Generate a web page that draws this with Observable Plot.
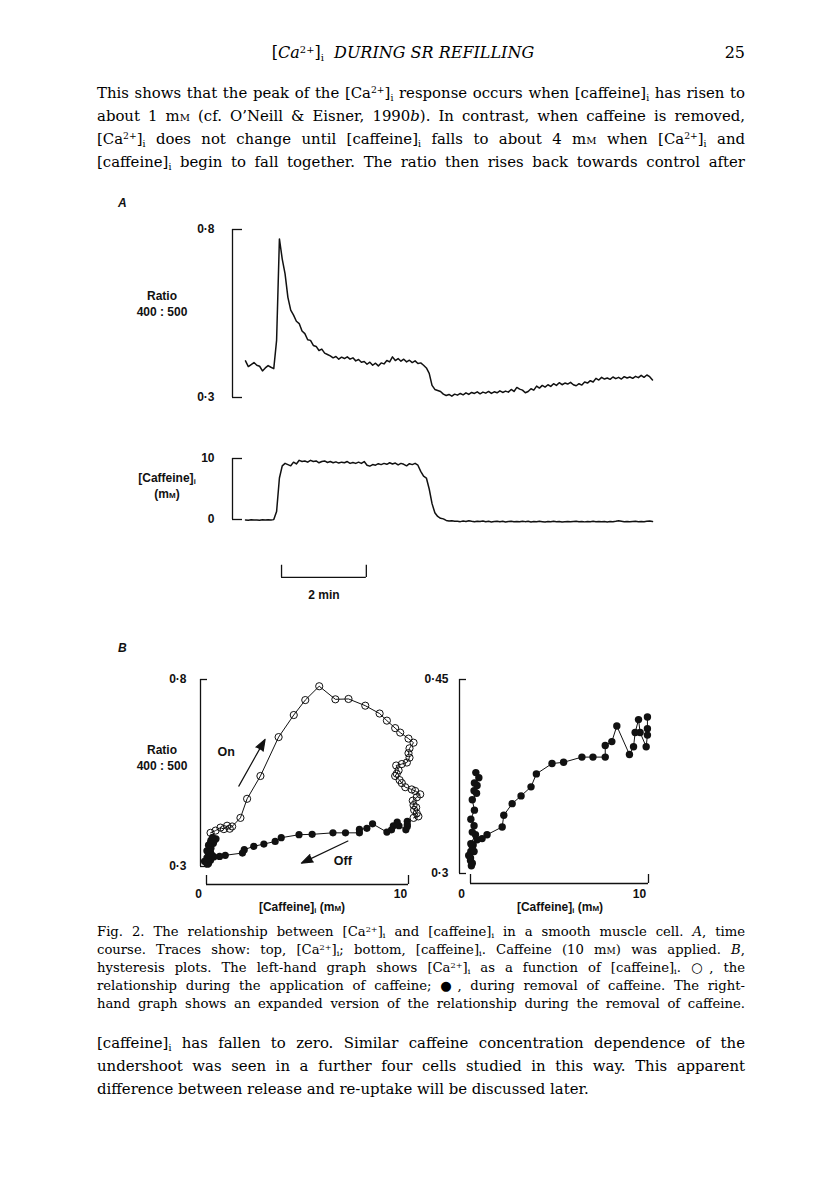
<!DOCTYPE html>
<html>
<head>
<meta charset="utf-8">
<script src="https://cdn.jsdelivr.net/npm/d3@7"></script>
<script src="https://cdn.jsdelivr.net/npm/@observablehq/plot@0.6"></script>
<style>
html,body{margin:0;padding:0;background:#fff;}
#page{position:relative;width:816px;height:1204px;overflow:hidden;color:#000;background:#fff;}
.ln{position:absolute;left:97px;width:648px;height:22px;line-height:22px;font-family:"DejaVu Serif",serif;font-size:14.9px;word-spacing:-1.5px;text-align:justify;text-align-last:justify;}
.cap{position:absolute;left:97px;width:648px;height:18px;line-height:18px;font-family:"DejaVu Serif",serif;font-size:13.2px;word-spacing:-1px;text-align:justify;text-align-last:justify;}
.left{text-align:left;text-align-last:left;word-spacing:0;}
sup{font-size:.62em;vertical-align:.55em;line-height:0;}
sub{font-size:.62em;vertical-align:-.3em;line-height:0;}
.sc{font-variant:small-caps;}
.lab{position:absolute;font-family:"Liberation Sans",Arial,sans-serif;font-weight:bold;font-size:12px;text-align:center;line-height:16px;white-space:nowrap;color:#111;}
.panel{position:absolute;font-family:"Liberation Sans",Arial,sans-serif;font-weight:bold;font-style:italic;font-size:12px;color:#111;}
.chart{position:absolute;}
</style>
</head>
<body>
<div id="page">
  <div class="ln left" style="top:42px;left:0;width:806px;text-align:center;text-align-last:center;font-size:16px;">[<i>Ca</i><sup>2+</sup>]<sub>i</sub>&nbsp; <i>DURING SR REFILLING</i></div>
  <div class="ln left" style="top:42px;text-align:right;text-align-last:right;font-size:16px;">25</div>

  <div class="ln" style="top:82px;">This shows that the peak of the [Ca<sup>2+</sup>]<sub>i</sub> response occurs when [caffeine]<sub>i</sub> has risen to</div>
  <div class="ln" style="top:105px;">about 1 m<span class="sc">m</span> (cf. O’Neill &amp; Eisner, 1990<i>b</i>). In contrast, when caffeine is removed,</div>
  <div class="ln" style="top:128px;">[Ca<sup>2+</sup>]<sub>i</sub> does not change until [caffeine]<sub>i</sub> falls to about 4 m<span class="sc">m</span> when [Ca<sup>2+</sup>]<sub>i</sub> and</div>
  <div class="ln" style="top:151px;">[caffeine]<sub>i</sub> begin to fall together. The ratio then rises back towards control after</div>

  <div class="panel" style="left:118px;top:196px;">A</div>
  <div class="panel" style="left:118px;top:641px;">B</div>

  <div class="lab" style="left:122px;width:80px;top:288px;">Ratio<br>400 : 500</div>
  <div class="lab" style="left:127px;width:80px;top:470px;">[Caffeine]<sub>i</sub><br>(m<span class="sc">m</span>)</div>
  <div class="lab" style="left:122px;width:80px;top:742px;">Ratio<br>400 : 500</div>
  <div class="lab" style="left:242px;width:120px;top:899px;">[Caffeine]<sub>i</sub> (m<span class="sc">m</span>)</div>
  <div class="lab" style="left:500px;width:120px;top:899px;">[Caffeine]<sub>i</sub> (m<span class="sc">m</span>)</div>

  <div class="chart" id="a1" style="left:0;top:200px;"></div>
  <div class="chart" id="a2" style="left:0;top:440px;"></div>
  <div class="chart" id="b1" style="left:0;top:660px;"></div>
  <div class="chart" id="b2" style="left:420px;top:660px;"></div>

  <div class="cap" style="top:923px;">Fig. 2. The relationship between [Ca<sup>2+</sup>]<sub>i</sub> and [caffeine]<sub>i</sub> in a smooth muscle cell. <i>A</i>, time</div>
  <div class="cap" style="top:941px;">course. Traces show: top, [Ca<sup>2+</sup>]<sub>i</sub>; bottom, [caffeine]<sub>i</sub>. Caffeine (10 m<span class="sc">m</span>) was applied. <i>B</i>,</div>
  <div class="cap" style="top:959px;">hysteresis plots. The left-hand graph shows [Ca<sup>2+</sup>]<sub>i</sub> as a function of [caffeine]<sub>i</sub>. ○, the</div>
  <div class="cap" style="top:977px;">relationship during the application of caffeine; ●, during removal of caffeine. The right-</div>
  <div class="cap" style="top:995px;">hand graph shows an expanded version of the relationship during the removal of caffeine.</div>

  <div class="ln" style="top:1032px;">[caffeine]<sub>i</sub> has fallen to zero. Similar caffeine concentration dependence of the</div>
  <div class="ln" style="top:1055px;">undershoot was seen in a further four cells studied in this way. This apparent</div>
  <div class="ln left" style="top:1078px;">difference between release and re-uptake will be discussed later.</div>
</div>
<script>
// ---- Panel A: time course (time in s) ----
const traceTime = [0,4,8,12,16,20,24,28,32,36,40,44,48,52,56,60,64,68,72,76,80,84,88,92,96,100,104,108,112,116,120,124,128,132,136,140,144,148,152,156,160,164,168,172,176,180,184,188,192,196,200,204,208,212,216,220,224,228,232,236,240,244,248,252,256,260,264,268,272,276,280,284,288,292,296,300,304,308,312,316,320,324,328,332,336,340,344,348,352,356,360,364,368,372,376,380,384,388,392,396,400,404,408,412,416,420,424,428,432,436,440,444,448,452,456,460,464,468,472,476,480,484,488,492,496,500,504,508,512,516,520,524,528,532,536,540,544,548,552,556,560,564,568,572,576];
const ratioTrace = [0.409,0.392,0.398,0.404,0.396,0.393,0.379,0.388,0.395,0.390,0.386,
  0.470,0.772,0.712,0.668,0.598,0.560,0.545,0.527,0.520,0.498,
  0.490,0.472,0.470,0.455,0.452,0.440,0.444,0.432,0.428,0.424,
  0.418,0.422,0.414,0.420,0.416,0.421,0.414,0.418,0.409,0.413,
  0.405,0.407,0.399,0.405,0.396,0.402,0.394,0.403,0.400,0.410,
  0.406,0.421,0.410,0.416,0.408,0.414,0.406,0.411,0.404,0.409,
  0.401,0.403,0.396,0.388,0.372,0.336,0.324,0.321,0.318,0.310,
  0.306,0.309,0.304,0.310,
  0.307,0.312,0.308,0.314,0.309,0.315,0.312,0.317,0.311,0.316,
  0.313,0.318,0.312,0.317,0.314,0.320,0.315,0.319,0.316,0.324,
  0.318,0.330,0.325,0.322,0.314,0.318,0.326,0.322,0.334,0.328,
  0.336,0.331,0.338,0.333,0.341,0.336,0.344,0.338,0.343,0.340,
  0.345,0.338,0.335,0.341,0.337,0.346,0.343,0.350,0.346,0.357,
  0.352,0.360,0.355,0.358,0.354,0.361,0.356,0.360,0.355,0.362,
  0.358,0.361,0.357,0.363,0.359,0.366,0.360,0.367,0.362,0.352];
const caffeineTrace = [-0.08,-0.12,-0.05,-0.10,-0.07,-0.13,-0.06,-0.10,-0.04,-0.09,-0.02,
  1.3,6.8,8.8,9.2,9.0,8.8,9.4,9.1,9.7,9.5,
  9.6,9.4,9.7,9.5,9.6,9.3,9.5,9.6,9.35,9.5,
  9.3,9.45,9.25,9.4,9.3,9.5,9.2,9.35,9.2,9.4,
  9.2,9.5,8.9,8.75,9.0,8.9,9.15,9.0,9.2,9.05,
  9.3,9.1,9.25,8.95,9.2,9.05,8.8,9.15,9.0,9.2,
  8.9,7.9,7.1,6.8,5.0,2.6,1.1,0.5,0.2,0.1,
  -0.15,-0.25,-0.2,-0.3,
  -0.28,-0.35,-0.25,-0.32,-0.20,-0.30,-0.38,-0.27,-0.33,-0.24,
  -0.36,-0.30,-0.40,-0.32,-0.28,-0.37,-0.30,-0.42,-0.34,-0.29,
  -0.38,-0.31,-0.36,-0.27,-0.35,-0.30,-0.40,-0.33,-0.37,-0.29,
  -0.35,-0.41,-0.32,-0.38,-0.30,-0.36,-0.33,-0.40,-0.35,-0.31,
  -0.38,-0.34,-0.29,-0.36,-0.32,-0.39,-0.33,-0.37,-0.30,-0.35,
  -0.31,-0.38,-0.34,-0.40,-0.33,-0.36,-0.30,-0.22,-0.28,-0.35,
  -0.31,-0.37,-0.33,-0.29,-0.36,-0.32,-0.38,-0.30,-0.26,-0.34];
const ratioTicks = [0.3, 0.8];
const caffeineTicks = [0, 10];
const scaleBarStart = 51;      // s
const scaleBarSeconds = 120;   // 2 min
const scaleBarText = "2 min";

// ---- Panel B: hysteresis ([caffeine]i in mM, ratio 400:500) ----
const onCaffeine = [0.2,0.45,0.69,0.86,1.02,1.15,1.27,1.68,2.01,2.67,3.57,4.32,4.89,5.58,6.38,7.03,7.86,8.57,8.93,9.34,9.59,10.0,10.25,10.05,10.0,10.05,9.92,9.67,9.39,9.51,9.42,9.34,9.56,9.67,9.84,10.16,10.33,10.58,10.41,10.21,10.25,10.38,10.28,10.41,10.49,10.25];
const onRatio = [0.390,0.396,0.404,0.400,0.409,0.401,0.407,0.430,0.481,0.542,0.646,0.705,0.745,0.782,0.747,0.748,0.730,0.709,0.690,0.670,0.658,0.642,0.631,0.616,0.603,0.591,0.578,0.574,0.570,0.557,0.548,0.542,0.531,0.523,0.512,0.506,0.502,0.493,0.485,0.476,0.464,0.458,0.451,0.442,0.434,0.430];
const offCaffeine = [9.94,9.94,9.94,9.87,9.53,9.44,9.25,9.16,8.93,8.22,7.94,7.57,7.57,6.88,6.26,5.23,4.58,3.70,3.40,2.84,2.34,1.87,1.78,0.93,0.65,0.37,
  0.15,0.02,-0.1,0.0,0.05,0.1,0.0,0.2,0.1,0.02,0.28,0.1,0.2,0.02,0.22,0.1,0.34,0.2,0.37,0.22,0.47,0.3];
const offRatio = [0.421,0.412,0.407,0.398,0.409,0.419,0.409,0.398,0.392,0.414,0.402,0.399,0.390,0.390,0.390,0.386,0.385,0.377,0.367,0.360,0.354,0.345,0.336,0.330,0.327,0.326,
  0.322,0.317,0.314,0.310,0.306,0.308,0.312,0.317,0.321,0.323,0.330,0.332,0.337,0.342,0.349,0.357,0.362,0.364,0.368,0.370,0.374,0.378];
const leftRatioTicks = [0.3, 0.8];
const rightRatioTicks = [0.3, 0.45];
const caffeineAxisTicks = [0, 10];
const arrowText = ["On", "Off"];
const arrowFromC = [1.6, 7.0], arrowFromR = [0.515, 0.368];
const arrowToC = [2.9, 4.7], arrowToR = [0.64, 0.309];
const arrowTextC = [0.97, 6.75], arrowTextR = [0.606, 0.314];

// ---- build rows ----
const traceRows = traceTime.map((t, i) => ({t, ratio: ratioTrace[i], caffeine: caffeineTrace[i]}));
const onRows = onCaffeine.map((c, i) => ({c, r: onRatio[i]}));
const offRows = offCaffeine.map((c, i) => ({c, r: offRatio[i]}));
const arrowRows = arrowText.map((label, i) => ({label, x1: arrowFromC[i], y1: arrowFromR[i], x2: arrowToC[i], y2: arrowToR[i], tx: arrowTextC[i], ty: arrowTextR[i]}));

const INK = "#111";
const fmt = d => String(d).replace(".", "·");
const style = {fontFamily: '"Liberation Sans", Arial, sans-serif', fontSize: "12px", fontWeight: "bold", color: INK, background: "transparent", overflow: "visible"};

// A, top: ratio
const a1 = Plot.plot({
  width: 700, height: 215, marginLeft: 232, marginTop: 29, marginBottom: 18, marginRight: 40,
  style,
  x: {domain: [0, 576], range: [245, 652], axis: null},
  y: {domain: [0.3, 0.8], label: null},
  marks: [
    Plot.ruleX([0], {y1: 0.3, y2: 0.8, dx: -13, stroke: INK, strokeWidth: 1.3}),
    Plot.axisY({ticks: ratioTicks, tickFormat: fmt, tickSize: -10, tickPadding: 28, label: null, strokeWidth: 1.3}),
    Plot.line(traceRows, {x: "t", y: "ratio", stroke: INK, strokeWidth: 1.5})
  ]
});
document.getElementById("a1").append(a1);

// A, bottom: caffeine with 2 min scale bar
const a2 = Plot.plot({
  width: 700, height: 170, marginLeft: 232, marginTop: 18, marginBottom: 91, marginRight: 40,
  style,
  x: {domain: [0, 576], range: [245, 652], axis: null},
  y: {domain: [0, 10], label: null},
  marks: [
    Plot.ruleX([0], {y1: 0, y2: 10, dx: -13, stroke: INK, strokeWidth: 1.3}),
    Plot.axisY({ticks: caffeineTicks, tickFormat: fmt, tickSize: -10, tickPadding: 28, label: null, strokeWidth: 1.3}),
    Plot.line(traceRows, {x: "t", y: "caffeine", stroke: INK, strokeWidth: 1.5}),
    Plot.ruleY([-9.5], {x1: scaleBarStart, x2: scaleBarStart + scaleBarSeconds, stroke: INK, strokeWidth: 1.3}),
    Plot.ruleX([scaleBarStart, scaleBarStart + scaleBarSeconds], {y1: -9.5, y2: -7.5, stroke: INK, strokeWidth: 1.3}),
    Plot.text([scaleBarText], {x: scaleBarStart + scaleBarSeconds / 2, y: -9.5, dy: 18, text: d => d, fill: INK})
  ]
});
document.getElementById("a2").append(a2);

// B, left: full hysteresis loop
const b1 = Plot.plot({
  width: 440, height: 250, marginLeft: 200, marginTop: 19, marginBottom: 44, marginRight: 30,
  style,
  x: {domain: [0, 10], range: [206, 408], label: null},
  y: {domain: [0.3, 0.8], label: null},
  marks: [
    Plot.ruleX([0], {y1: 0.3, y2: 0.8, dx: -6, stroke: INK, strokeWidth: 1.3}),
    Plot.axisY({ticks: leftRatioTicks, tickFormat: fmt, tickSize: -7, tickPadding: 21, label: null, strokeWidth: 1.3}),
    Plot.ruleY([0.3], {x1: 0, x2: 10, dy: 18, stroke: INK, strokeWidth: 1.3}),
    Plot.axisX({ticks: caffeineAxisTicks, tickFormat: () => "", tickSize: -9, dy: 18, label: null, strokeWidth: 1.3}),
    Plot.axisX({ticks: caffeineAxisTicks, tickFormat: fmt, tickSize: 0, dy: 18, dx: -8, tickPadding: 5, label: null}),
    Plot.line(onRows, {x: "c", y: "r", stroke: INK, strokeWidth: 1}),
    Plot.dot(onRows, {x: "c", y: "r", r: 3.6, stroke: INK, strokeWidth: 1, fill: "none"}),
    Plot.line(offRows, {x: "c", y: "r", stroke: INK, strokeWidth: 1}),
    Plot.dot(offRows, {x: "c", y: "r", r: 3.6, fill: INK, stroke: "none"}),
    Plot.arrow(arrowRows, {x1: "x1", y1: "y1", x2: "x2", y2: "y2", stroke: INK, strokeWidth: 1.2, headAngle: 40, headLength: 15}),
    Plot.text(arrowRows, {x: "tx", y: "ty", text: "label", fill: INK, fontSize: 12.5})
  ]
});
document.getElementById("b1").append(b1);

// B, right: expanded removal (off) relationship
const b2 = Plot.plot({
  width: 300, height: 250, marginLeft: 39, marginTop: 19, marginBottom: 37, marginRight: 40,
  style,
  x: {domain: [0, 10], range: [50, 228], label: null},
  y: {domain: [0.3, 0.45], label: null},
  marks: [
    Plot.ruleX([0], {y1: 0.3, y2: 0.45, dx: -11, stroke: INK, strokeWidth: 1.3}),
    Plot.axisY({ticks: rightRatioTicks, tickFormat: fmt, tickSize: -7, tickPadding: 18, label: null, strokeWidth: 1.3}),
    Plot.ruleY([0.3], {x1: 0, x2: 10, dy: 10, stroke: INK, strokeWidth: 1.3}),
    Plot.axisX({ticks: caffeineAxisTicks, tickFormat: () => "", tickSize: -9, dy: 10, label: null, strokeWidth: 1.3}),
    Plot.axisX({ticks: caffeineAxisTicks, tickFormat: fmt, tickSize: 0, dy: 10, dx: -9, tickPadding: 6, label: null}),
    Plot.line(offRows, {x: "c", y: "r", stroke: INK, strokeWidth: 1}),
    Plot.dot(offRows, {x: "c", y: "r", r: 3.7, fill: INK, stroke: "none"})
  ]
});
document.getElementById("b2").append(b2);

// filled arrowheads
d3.select(b1).selectAll('g[aria-label="arrow"] path').attr("fill", INK);
</script>
</body>
</html>
